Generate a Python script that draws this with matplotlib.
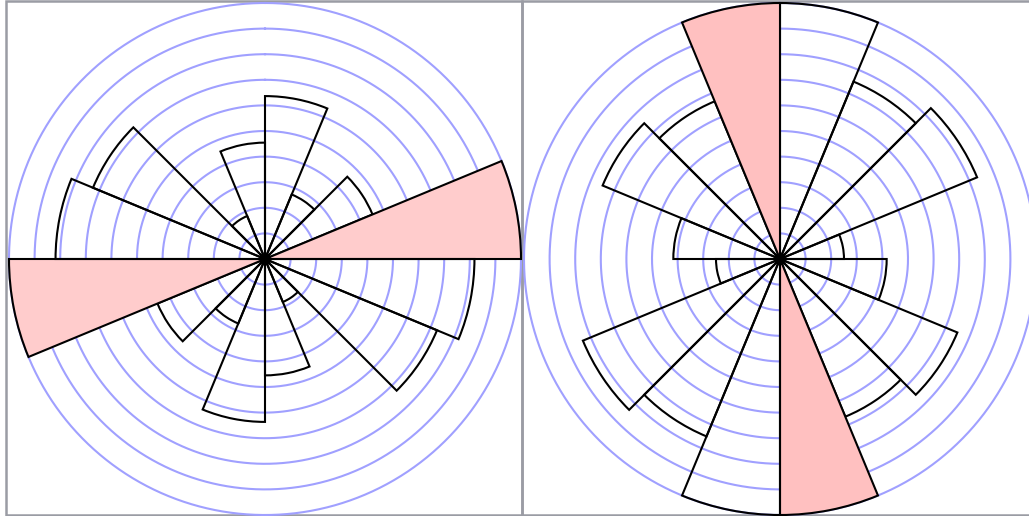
import numpy as np
import matplotlib
matplotlib.use("Agg")
import matplotlib.pyplot as plt
from matplotlib.patches import Rectangle

# Sector counts (compass bins of 22.5 deg, starting at North, clockwise).
# Axial data: the second half mirrors the first half.
left_counts = [7, 3, 5, 11, 9, 8, 2, 5]
right_counts = [12, 9, 10, 3, 5, 9, 8, 12]
n_rings = 10

W, H = 1029, 516
fig = plt.figure(figsize=(W / 100, H / 100), dpi=100)
fig.patch.set_facecolor("white")

ring_color = "#a0a0ff"
border_color = "#9a9ca4"


def panel(counts, box_x0, cx, cy, radius, pink):
    # panel border (pixel coords, y from top)
    box = Rectangle(((box_x0) / W, 1 - 515 / H), 516 / W, 514 / H,
                    transform=fig.transFigure, fill=False,
                    edgecolor=border_color, linewidth=1.8, zorder=0)
    fig.add_artist(box)

    ax = fig.add_axes([(cx - radius) / W, (H - cy - radius) / H,
                       2 * radius / W, 2 * radius / H], projection="polar")
    ax.set_theta_zero_location("N")
    ax.set_theta_direction(-1)
    ax.patch.set_alpha(0)
    ax.spines["polar"].set_visible(False)
    ax.set_xticks([])
    ax.set_yticks([])
    ax.grid(False)

    vals = np.array(counts + counts, dtype=float)
    nb = len(vals)
    width = 2 * np.pi / nb
    theta = np.arange(nb) * width
    vmax = vals.max()
    ax.set_ylim(0, vmax)

    # rings
    tt = np.linspace(0, 2 * np.pi, 400)
    for k in range(1, n_rings + 1):
        ax.plot(tt, np.full_like(tt, vmax * k / n_rings), color=ring_color,
                linewidth=1.5, zorder=1, clip_on=False)

    # highlight: last maximum within the half-circle and its mirror
    half = np.array(counts)
    hi = len(half) - 1 - np.argmax(half[::-1])
    faces = ["none"] * nb
    faces[hi] = pink
    faces[hi + len(half)] = pink
    bars = ax.bar(theta, vals, width=width, align="edge", bottom=0,
                  edgecolor="black", linewidth=1.5, zorder=3)
    for b, f in zip(bars, faces):
        b.set_facecolor(f)
        b.set_clip_on(False)
    ax.plot([0], [0], marker="o", markersize=7, color="black", zorder=5,
            clip_on=False)


panel(left_counts, 6, 265, 259, 256, "#ffcccc")
panel(right_counts, 522, 780, 259, 256, "#ffc0c0")

fig.savefig("out.png", dpi=100)
